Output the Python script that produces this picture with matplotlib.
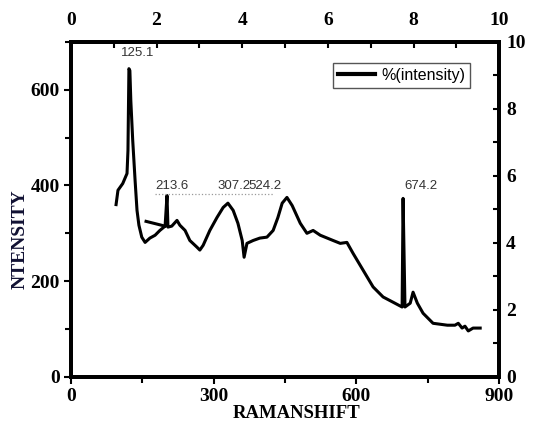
import matplotlib
matplotlib.use('Agg')
import matplotlib.pyplot as plt
from matplotlib.ticker import MultipleLocator
import numpy as np

# raman spectrum
shift = [95, 99, 109, 118, 120, 122, 124, 126, 130, 135, 139, 143, 149, 156,
         166, 177, 187, 198, 202, 204, 212, 223, 229, 240, 250, 265, 271, 278,
         292, 307, 320, 330, 341, 351, 360, 364, 370, 383, 397, 412, 425, 435,
         444, 454, 465, 482, 496, 509, 524, 551, 566, 580, 593, 614, 635, 656,
         677, 696, 698, 702, 713, 719, 728, 740, 761, 791, 807, 814, 822, 828,
         835, 845, 860]
inten = [360, 390, 404, 425, 473, 644, 640, 577, 494, 410, 348, 317, 292, 281,
         290, 296, 306, 315, 379, 313, 315, 327, 317, 306, 285, 271, 265, 275,
         306, 333, 354, 363, 348, 321, 285, 250, 279, 285, 290, 292, 306, 333,
         363, 375, 358, 321, 300, 306, 296, 285, 279, 281, 258, 223, 188, 167,
         156, 146, 373, 146, 154, 177, 154, 133, 112, 108, 108, 112, 102, 106,
         96, 102, 102]

# stray stroke near the 213.6 peak
seg_x = [158, 198]
seg_y = [325, 315]

peak_labels = ['125.1', '213.6', '307.2', '524.2', '674.2']
peak_x = [105, 177, 307, 373, 700]
peak_y = [664, 386, 386, 386, 386]

serif = 'Liberation Serif'
sans = 'Liberation Sans'

fig = plt.figure(figsize=(5.45, 4.23), dpi=100)
ax = fig.add_axes([0.130, 0.109, 0.786, 0.792])

ax.plot(shift, inten, color='black', lw=2.2, label='%(intensity)')
ax.plot(seg_x, seg_y, color='black', lw=2.2)

for s, px, py in zip(peak_labels, peak_x, peak_y):
    ax.text(px, py, s, fontsize=9.5, family=sans, color='#333333',
            ha='left', va='bottom')
# spell-check squiggle under the middle labels
ax.plot([177, 427], [382, 382], color='#999999', lw=0.9, ls=':')

ax.set_xlim(0, 900)
ax.set_ylim(0, 700)
ax.xaxis.set_major_locator(MultipleLocator(300))
ax.xaxis.set_minor_locator(MultipleLocator(150))
ax.yaxis.set_major_locator(MultipleLocator(200))
ax.yaxis.set_minor_locator(MultipleLocator(100))
ax.tick_params(which='both', direction='out', width=1.5)
ax.tick_params(which='major', length=5, pad=3)
ax.tick_params(which='minor', length=4)
for lab in ax.get_xticklabels() + ax.get_yticklabels():
    lab.set_family(serif)
    lab.set_fontweight('bold')
    lab.set_fontsize(14)

ax.set_xlabel('RAMANSHIFT', family=serif, fontweight='bold', fontsize=13.5)
ax.xaxis.set_label_coords(0.526, -0.084)
ax.set_ylabel('NTENSITY', family=serif, fontweight='bold', fontsize=14,
              color='#111133')
ax.yaxis.set_label_coords(-0.098, 0.41)

for sp in ax.spines.values():
    sp.set_linewidth(2.6)

# secondary 0-10 axes on top and right
top = ax.twiny()
top.set_xlim(0, 10)
top.xaxis.set_major_locator(MultipleLocator(2))
top.xaxis.set_minor_locator(MultipleLocator(1))
top.tick_params(which='both', direction='in', width=1.5, length=4, pad=9)
right = ax.twinx()
right.set_ylim(0, 10)
right.yaxis.set_major_locator(MultipleLocator(2))
right.yaxis.set_minor_locator(MultipleLocator(1))
right.tick_params(which='both', direction='in', width=1.5, length=4, pad=5)
for lab in top.get_xticklabels() + right.get_yticklabels():
    lab.set_family(serif)
    lab.set_fontweight('bold')
    lab.set_fontsize(14)
for a in (top, right):
    for sp in a.spines.values():
        sp.set_linewidth(2.6)

leg = ax.legend(loc='upper right', bbox_to_anchor=(0.932, 0.937),
                borderaxespad=0, fancybox=False, edgecolor='#555555',
                handlelength=2.3, handletextpad=0.4,
                prop={'family': sans, 'size': 11.5},
                borderpad=0.3, framealpha=1)
leg.get_frame().set_linewidth(1.0)
for line in leg.get_lines():
    line.set_linewidth(3)

fig.savefig('out.png', dpi=100)
